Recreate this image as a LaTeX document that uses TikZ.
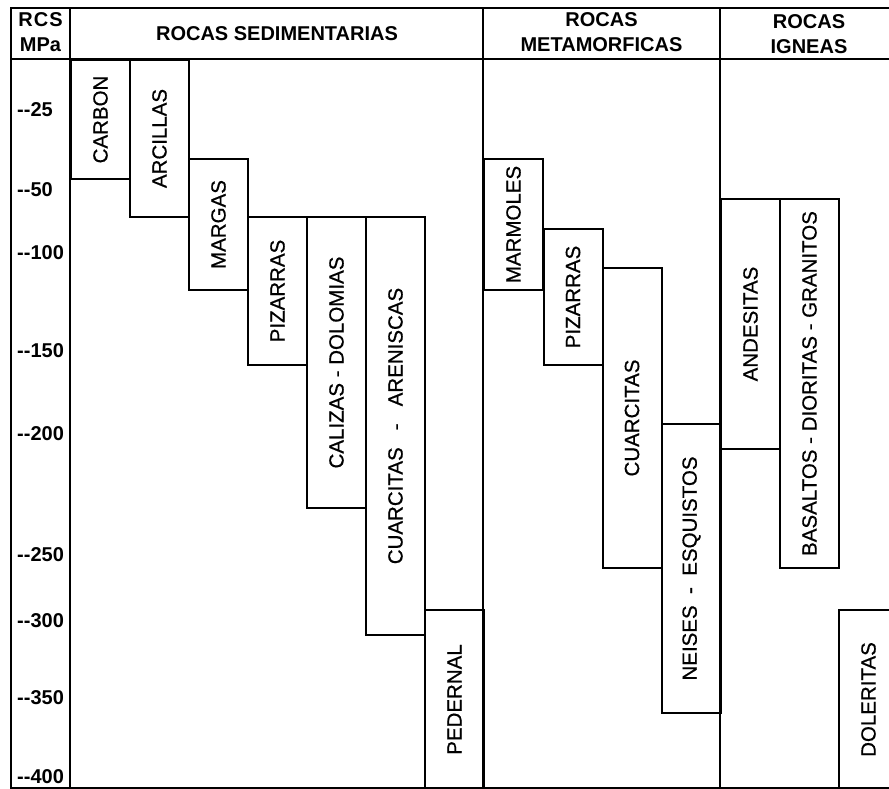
\documentclass[tikz,border=0pt]{standalone}
\usepackage{fontspec}
\setmainfont{Liberation Sans}[Ligatures=TeXOff]
\newfontfamily\lblfont{Liberation Sans}[FakeBold=0.6]
\begin{document}
\begin{tikzpicture}[x=1pt,y=-1pt]
\tikzset{
  gridline/.style={line width=2pt},
  rockbox/.style={draw, line width=2pt, anchor=north west, inner sep=0pt,
    minimum width=59pt, font=\lblfont\fontsize{20.5}{24}\selectfont},
  head/.style={font=\bfseries\fontsize{20}{25}\selectfont, align=center, inner sep=0pt},
  tick/.style={font=\bfseries\fontsize{20}{24}\selectfont, anchor=west, inner sep=0pt},
}
\useasboundingbox (0,0) rectangle (889,789);
\clip (0,0) rectangle (889,789);
% frame and grid
\draw[gridline] (11,8) rectangle (897,788);
\draw[gridline] (11,59) -- (897,59);
\draw[gridline] (70,8) -- (70,788);
\draw[gridline] (483,8) -- (483,788);
\draw[gridline] (720,8) -- (720,788);
% headers
\node[head] (hrcs) at (40.5,32.5) {R\kern1ptC\kern1ptS\\MPa};
\node[head] (hsed) at (277,33.5) {ROCAS SEDIMENTARIAS};
\node[head] (hmet) at (601.5,32.5) {ROCAS\\METAMORFICAS};
\node[head] (hign) at (809,34) {ROCAS\\IGNEAS};
% ticks
\node[tick] (t25) at (17,110) {--25};
\node[tick] (t50) at (17,190) {--50};
\node[tick] (t100) at (17,253) {--100};
\node[tick] (t150) at (17,351) {--150};
\node[tick] (t200) at (17,434) {--200};
\node[tick] (t250) at (17,555) {--250};
\node[tick] (t300) at (17,621) {--300};
\node[tick] (t350) at (17,698) {--350};
\node[tick] (t400) at (17,777) {--400};
% sedimentary
\node[rockbox, minimum height=119pt] (carbon) at (70,59) {\rotatebox{90}{CARBON}};
\node[rockbox, minimum height=157pt] (arcillas) at (129,59) {\rotatebox{90}{ARCILLAS}};
\node[rockbox, minimum height=131pt] (margas) at (188,158) {\rotatebox{90}{MARGAS}};
\node[rockbox, minimum height=148pt] (pizarras1) at (247,216) {\rotatebox{90}{PIZARRAS}};
\node[rockbox, minimum height=291pt] (calizas) at (306,216) {\rotatebox{90}{CALIZAS - DOLOMIAS}};
\node[rockbox, minimum height=418pt] (cuararen) at (365,216) {\rotatebox{90}{CUARCITAS\ \ \ -\ \ \ ARENISCAS}};
\node[rockbox, minimum height=179pt] (pedernal) at (424,609) {\rotatebox{90}{PEDERNAL}};
% metamorphic
\node[rockbox, minimum height=131pt] (marmoles) at (483,158) {\rotatebox{90}{MARMOLES}};
\node[rockbox, minimum height=136pt] (pizarras2) at (542.5,228) {\rotatebox{90}{PIZARRAS}};
\node[rockbox, minimum height=300pt] (cuarcitas) at (601.5,267) {\rotatebox{90}{CUARCITAS}};
\node[rockbox, minimum height=289pt] (neises) at (661,423) {\rotatebox{90}{NEISES\ \ -\ \ ESQUISTOS}};
% igneous
\node[rockbox, minimum height=250pt] (andesitas) at (720,198) {\rotatebox{90}{ANDESITAS}};
\node[rockbox, minimum height=369pt] (basaltos) at (779,198) {\rotatebox{90}{BASALTOS - DIORITAS - GRANITOS}};
\node[rockbox, minimum height=179pt] (doleritas) at (838,609) {\rotatebox{90}{DOLERITAS}};
\end{tikzpicture}
\end{document}
